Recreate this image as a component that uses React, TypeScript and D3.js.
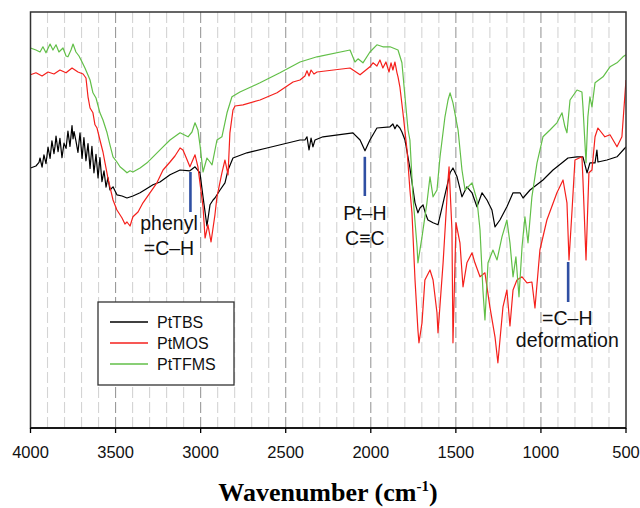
import React from "react";
import * as d3 from "d3";

// [wavenumber (cm-1), transmittance (a.u.)]
const ptTBS: [number, number][] = [
  [4000, 65], [3968, 65.5], [3950, 66.4], [3944, 67.5], [3932, 65.2], [3921, 68.3], [3909, 66.1], [3897, 70.2], [3885, 67.4],
  [3874, 71.8], [3862, 68.6], [3856, 70.4], [3850, 73], [3838, 69.1], [3827, 72.4], [3815, 67.6], [3803, 71.2], [3791, 69.9],
  [3780, 74.2], [3768, 70.4], [3756, 75.6], [3750, 72.3], [3744, 74.1], [3733, 71.8], [3721, 68.9], [3709, 73.8], [3697, 67.4],
  [3686, 72.6], [3674, 66.8], [3662, 71.1], [3650, 64.9], [3639, 70.4], [3627, 63.8], [3615, 68.4], [3603, 62.5],
  [3592, 67.6], [3580, 61.6], [3568, 64.3], [3556, 60.2], [3545, 62.6], [3533, 59.5], [3515, 60.3], [3492, 58.3],
  [3462, 58], [3433, 57.5], [3398, 58], [3356, 58.8], [3280, 60.8], [3239, 61.5], [3180, 63.3], [3121, 64.5],
  [3063, 64.3], [3033, 65.3], [3004, 63.8], [2986, 57.8], [2963, 50.5], [2945, 55.8], [2927, 57], [2916, 57.5],
  [2886, 59.5], [2857, 61.3], [2839, 64.5], [2810, 67.5], [2728, 68.8], [2610, 70], [2416, 72], [2387, 72],
  [2375, 72.8], [2363, 69.5], [2351, 72.5], [2340, 70.3], [2328, 72], [2281, 72.8], [2105, 73.8], [2063, 72],
  [2034, 69.3], [2005, 72], [1964, 75], [1887, 75.3], [1870, 76], [1858, 74.8], [1846, 75.8], [1829, 75],
  [1817, 74], [1799, 72], [1770, 65], [1740, 56.3], [1723, 53.8], [1711, 55], [1693, 55.8], [1676, 53.3],
  [1664, 52], [1634, 51.3], [1605, 50.8], [1575, 56.3], [1534, 63.8], [1517, 65], [1493, 62.8], [1464, 57.8],
  [1435, 60.3], [1405, 58.8], [1376, 55.3], [1346, 58.8], [1317, 57], [1288, 54.5], [1270, 50.3], [1241, 52],
  [1200, 55.3], [1164, 58.8], [1123, 58.8], [1105, 57.5], [1064, 59.5], [988, 62], [929, 64.5], [870, 66.5],
  [841, 67.5], [788, 67.8], [753, 67.8], [729, 63.8], [712, 66.3], [682, 66.3], [671, 69.5], [665, 66.5],
  [612, 67], [553, 67.8], [506, 70], [500, 70.3],
];

const ptMOS: [number, number][] = [
  [4000, 88.3], [3968, 88.8], [3932, 88], [3897, 89], [3862, 88.5], [3827, 89.5], [3791, 88.8], [3756, 90],
  [3721, 89], [3691, 88.5], [3674, 87.5], [3662, 82.8], [3650, 80], [3633, 78.8], [3621, 75.8], [3609, 75],
  [3592, 72], [3574, 69], [3562, 66.3], [3545, 62.5], [3533, 60.3], [3515, 57], [3492, 54.5], [3462, 52.5],
  [3445, 51], [3433, 51.5], [3415, 50.5], [3398, 52.8], [3368, 54], [3339, 56.3], [3298, 58.8], [3257, 61.3],
  [3221, 64.5], [3180, 66.5], [3151, 68], [3121, 70], [3104, 69.5], [3092, 68.3], [3063, 65.3], [3033, 68.3],
  [3016, 65.3], [2986, 55.3], [2974, 47.5], [2957, 50.8], [2939, 46.5], [2916, 53.3], [2904, 57.8], [2875, 63.8],
  [2857, 67], [2839, 63.3], [2828, 73.8], [2810, 79.5], [2798, 80.5], [2751, 80.8], [2651, 82], [2551, 83.8],
  [2457, 86.5], [2416, 87], [2387, 88], [2375, 89.3], [2363, 88], [2351, 89.5], [2334, 88.5], [2316, 89],
  [2122, 90], [2063, 88.3], [2005, 90.3], [1987, 91.3], [1964, 90.5], [1946, 92], [1929, 90], [1911, 91.5],
  [1893, 89], [1881, 91.3], [1870, 89.5], [1858, 91.5], [1846, 88.8], [1840, 87.8], [1829, 85.3], [1811, 78.8],
  [1787, 69.5], [1770, 59.5], [1758, 53.8], [1740, 37], [1723, 24.5], [1717, 21.3], [1699, 26.3], [1682, 37],
  [1652, 39.5], [1634, 37], [1611, 28.8], [1605, 23.8], [1575, 41.3], [1546, 62], [1540, 65.3], [1523, 49.5],
  [1517, 21.3], [1499, 51.3], [1476, 46.3], [1458, 35.3], [1435, 41.3], [1405, 43.8], [1388, 41.3], [1358, 37.8],
  [1329, 38.8], [1300, 30.3], [1270, 22.8], [1253, 16.3], [1223, 30.3], [1200, 34.5], [1182, 25.5], [1164, 34.5],
  [1141, 37], [1111, 37.8], [1082, 36.3], [1053, 36.5], [1035, 30], [1006, 44.5], [965, 52], [906, 58.8],
  [870, 62], [847, 56.3], [835, 42], [817, 54.5], [800, 67], [759, 67.8], [753, 62], [735, 42],
  [718, 63.8], [700, 64.5], [682, 72.8], [665, 75], [624, 72.8], [594, 73.3], [553, 70.3], [524, 72.8],
  [500, 87],
];

const ptTFMS: [number, number][] = [
  [4000, 95], [3968, 94.5], [3944, 94], [3927, 95.3], [3909, 93.8], [3885, 96], [3868, 94.5], [3850, 95.8],
  [3833, 94], [3809, 95], [3791, 93], [3780, 92.8], [3762, 94.5], [3750, 96], [3733, 94], [3715, 93],
  [3697, 91.5], [3680, 90], [3668, 88.8], [3650, 87], [3633, 83.8], [3615, 82.5], [3592, 78.8], [3574, 77],
  [3550, 73.8], [3533, 70.8], [3515, 67.8], [3492, 66.5], [3474, 65.3], [3451, 64.5], [3433, 63.8], [3415, 64.3],
  [3398, 64], [3356, 65], [3315, 66.3], [3221, 70.3], [3180, 72], [3121, 73.8], [3074, 72.8], [3051, 74],
  [3033, 76.3], [3016, 74.5], [3004, 70.8], [2986, 64], [2963, 67.5], [2945, 66.5], [2933, 65.8], [2904, 72],
  [2875, 72.8], [2845, 78.8], [2816, 82.8], [2769, 84], [2651, 86.3], [2534, 88.8], [2416, 91.5], [2316, 92.8],
  [2122, 94.5], [2093, 91.5], [2075, 92.3], [2046, 91.3], [2005, 94], [1964, 95.8], [1929, 95.3], [1887, 95.3],
  [1840, 94.5], [1817, 91.3], [1799, 82.8], [1781, 74.5], [1770, 72], [1752, 57.8], [1728, 45.3], [1723, 41.3],
  [1699, 47.8], [1670, 56.3], [1652, 62.8], [1634, 57.8], [1611, 59.5], [1593, 67.8], [1564, 77.8], [1546, 82],
  [1534, 83.8], [1517, 81.3], [1487, 74.5], [1464, 64.5], [1446, 59.5], [1405, 61.3], [1376, 57], [1358, 49.5],
  [1341, 34.5], [1329, 27], [1311, 41.3], [1282, 44.5], [1258, 42], [1229, 47.8], [1200, 52], [1182, 46.3],
  [1164, 37.8], [1147, 42.8], [1129, 32.8], [1111, 45.3], [1094, 52.8], [1076, 46.3], [1053, 57.8], [1023, 66.3],
  [988, 72.8], [947, 74.5], [906, 76.3], [876, 78.8], [859, 75.3], [847, 73.8], [829, 82], [788, 84.5],
  [759, 84], [753, 80.3], [735, 66.3], [724, 77.8], [712, 82.8], [700, 80.3], [682, 86.3], [635, 87.8],
  [594, 90.3], [553, 91.3], [518, 92.8], [500, 93.3],
];

const seriesNames = ["PtTBS", "PtMOS", "PtTFMS"];
const seriesColors = ["#000000", "#f5201c", "#62bf48"];
const seriesData = [ptTBS, ptMOS, ptTFMS];

const xTicks = [4000, 3500, 3000, 2500, 2000, 1500, 1000, 500];
const gridValues = d3.range(3900, 500, -100);

// annotation markers: wavenumber, line top/bottom (a.u.), labels
const markerWavenumbers = [3060, 2035, 840];
const markerTop = [64, 67.8, 41.5];
const markerBottom = [54, 58, 31.5];
const labelWavenumbers = [3186, 2035, 845];
const labelLines = [["phenyl", "=C\u2013H"], ["Pt\u2013H", "C\u2261C"], ["=C\u2013H", "deformation"]];
const labelLevels = [[49.5, 43.3], [52, 45.8], [25.8, 20.3]];

const W = 640, H = 508;
const left = 30.5, right = 626, top = 12, bottom = 428;

export default function App() {
  const x = d3.scaleLinear().domain([4000, 500]).range([left, right]);
  const y = d3.scaleLinear().domain([0, 104]).range([bottom, top]);
  const line = d3.line<[number, number]>().x((d) => x(d[0])).y((d) => y(d[1]));
  const sans = "Arial, 'Liberation Sans', Helvetica, sans-serif";

  return (
    <svg width={W} height={H} style={{ position: "absolute", left: 0, top: 0, background: "#fff" }}>
      <rect x={0} y={0} width={W} height={H} fill="#fff" />
      {gridValues.map((g) => (
        <line key={g} x1={x(g)} x2={x(g)} y1={top} y2={bottom}
          stroke={g % 500 === 0 ? "#9a9a9a" : "#d4d4d4"} strokeWidth={1.1} strokeDasharray="11,4" />
      ))}
      <defs>
        <clipPath id="plotclip">
          <rect x={left} y={top} width={right - left} height={bottom - top} />
        </clipPath>
      </defs>
      <g clipPath="url(#plotclip)">
        {seriesData.map((s, i) => (
          <path key={i} d={line(s) || ""} fill="none" stroke={seriesColors[i]} strokeWidth={1.2} strokeLinejoin="round" />
        ))}
      </g>
      {markerWavenumbers.map((m, i) => (
        <line key={"m" + i} x1={x(m)} x2={x(m)} y1={y(markerTop[i])} y2={y(markerBottom[i])} stroke="#2f4fa3" strokeWidth={2.6} />
      ))}
      {labelWavenumbers.map((lw, i) => (
        <g key={"l" + i}>
          {labelLines[i].map((t, j) => (
            <text key={j} x={x(lw)} y={y(labelLevels[i][j])} textAnchor="middle" fontFamily={sans} fontSize={19.5} fill="#111">{t}</text>
          ))}
        </g>
      ))}
      {/* frame */}
      <rect x={left} y={top} width={right - left} height={bottom - top} fill="none" stroke="#333" strokeWidth={1.5} />
      <line x1={left} x2={right} y1={bottom} y2={bottom} stroke="#000" strokeWidth={1.5} />
      {xTicks.map((t) => (
        <g key={t}>
          <line x1={x(t)} x2={x(t)} y1={bottom} y2={bottom + 5} stroke="#000" strokeWidth={1.3} />
          <text x={x(t)} y={458} textAnchor="middle" fontFamily={sans} fontSize={16.5} fill="#111">{t}</text>
        </g>
      ))}
      {/* legend */}
      <rect x={98} y={302} width={136} height={83} fill="#fff" stroke="#333" strokeWidth={1.3} />
      {seriesNames.map((n, i) => (
        <g key={n}>
          <line x1={110} x2={148} y1={322 + i * 21} y2={322 + i * 21} stroke={seriesColors[i]} strokeWidth={1.3} />
          <text x={157} y={322 + i * 21 + 6} fontFamily={sans} fontSize={16} fill="#111">{n}</text>
        </g>
      ))}
      <text x={328} y={501} textAnchor="middle" fontFamily="'Times New Roman', 'Liberation Serif', serif" fontWeight="bold" fontSize={26} fill="#000">
        Wavenumber (cm<tspan dy={-10} fontSize={15}>-1</tspan><tspan dy={10}>)</tspan>
      </text>
    </svg>
  );
}
